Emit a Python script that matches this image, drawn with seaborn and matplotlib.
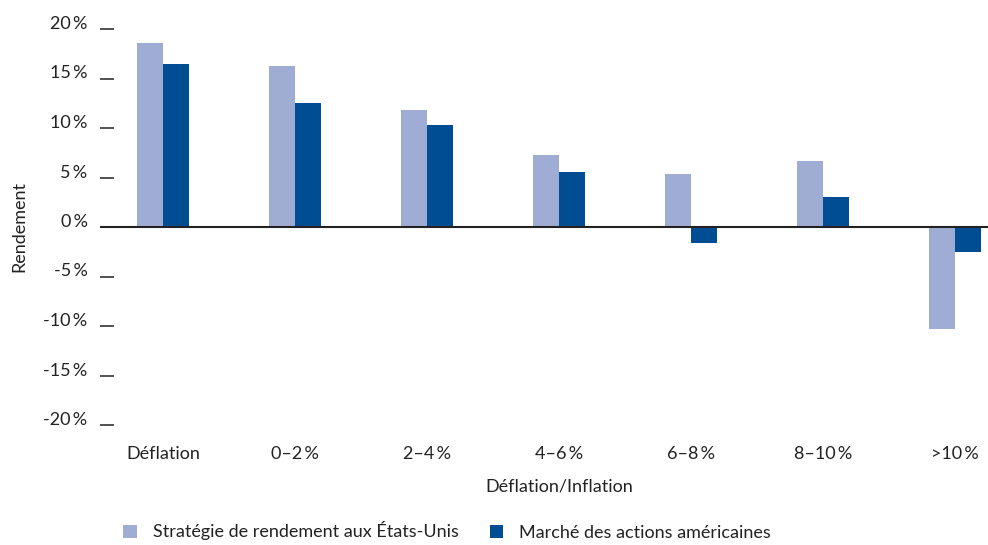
import matplotlib
matplotlib.use("Agg")
import matplotlib.pyplot as plt
import seaborn as sns
import pandas as pd
from matplotlib.patches import Patch

categories = ["Déflation", "0–2\u2009%", "2–4\u2009%", "4–6\u2009%", "6–8\u2009%", "8–10\u2009%", ">10\u2009%"]
series_names = ["Stratégie de rendement aux États-Unis", "Marché des actions américaines"]
strategie = [18.6, 16.3, 11.8, 7.3, 5.4, 6.7, -10.3]
marche = [16.5, 12.5, 10.3, 5.6, -1.6, 3.0, -2.5]
y_ticks = [-20, -15, -10, -5, 0, 5, 10, 15, 20]
y_tick_labels = [f"{v}\u2009%" for v in y_ticks]
colors = ["#9FADD4", "#004D93"]

df = pd.DataFrame({
    "cat": categories * 2,
    "serie": [series_names[0]] * len(categories) + [series_names[1]] * len(categories),
    "val": strategie + marche,
})

sns.set_theme(style="white")
plt.rcParams["font.family"] = ["Lato", "DejaVu Sans"]

fig = plt.figure(figsize=(9.88, 5.45), dpi=100)
ax = fig.add_axes([100 / 988, 1 - 425 / 545, 888 / 988, (425 - 29) / 545])

sns.barplot(data=df, x="cat", y="val", hue="serie", order=categories,
            hue_order=series_names, palette=colors, width=0.4, saturation=1,
            edgecolor="none", linewidth=0, ax=ax, legend=False)

ax.set_xlim(-0.477, 6.25)
ax.set_ylim(-20, 20)
ax.set_yticks(y_ticks)
ax.set_yticklabels(y_tick_labels, fontsize=13, color="#222222")
for lbl in ax.get_yticklabels():
    lbl.set_verticalalignment("baseline")
ax.tick_params(axis="y", direction="in", length=10, width=1.2, color="#333333", pad=9, left=True)
ax.tick_params(axis="x", length=0, pad=15, labelsize=13, labelcolor="#222222")
for s in ax.spines.values():
    s.set_visible(False)
ax.axhline(0, color="#222222", lw=1.5, zorder=3)

ax.set_ylabel("Rendement", fontsize=13, color="#222222")
ax.set_xlabel("Déflation/Inflation", fontsize=13, color="#222222")
ax.xaxis.set_label_coords((559 - 100) / 888, -0.135)
ax.yaxis.set_label_coords(-0.082, 0.5)

handles = [Patch(facecolor=c, edgecolor="none") for c in colors]
fig.legend(handles, series_names, loc="center left", bbox_to_anchor=(107 / 988, 1 - 531 / 545),
           ncol=2, frameon=False, fontsize=13, handlelength=0.75, handleheight=0.75,
           handletextpad=0.9, columnspacing=1.7, labelcolor="#222222")

fig.savefig("out.png", dpi=100)
